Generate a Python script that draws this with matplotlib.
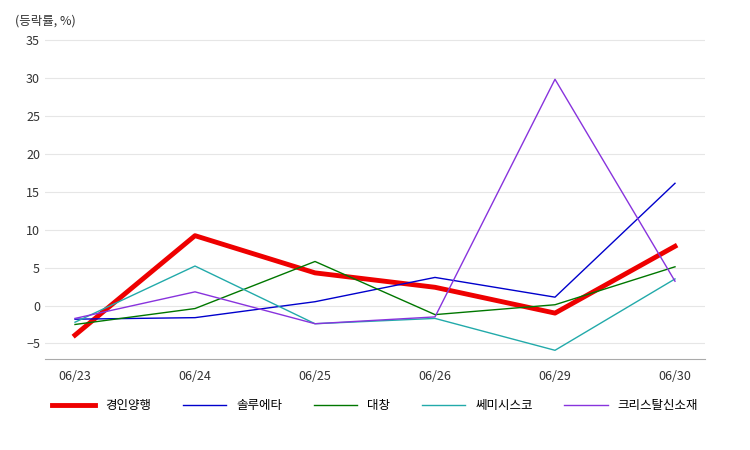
import matplotlib
matplotlib.use("Agg")
import matplotlib.pyplot as plt

plt.rcParams['font.family'] = ['Noto Sans CJK JP', 'Noto Sans CJK KR', 'Noto Sans CJK SC', 'DejaVu Sans']

dates = ["06/23", "06/24", "06/25", "06/26", "06/29", "06/30"]
s_names = ["경인양행", "솔루에타", "대창", "쎄미시스코", "크리스탈신소재"]
s1 = [-3.9, 9.2, 4.3, 2.4, -1.0, 7.8]
s2 = [-1.8, -1.6, 0.5, 3.7, 1.1, 16.1]
s3 = [-2.5, -0.4, 5.8, -1.2, 0.1, 5.1]
s4 = [-2.2, 5.2, -2.4, -1.7, -5.9, 3.5]
s5 = [-1.7, 1.8, -2.4, -1.5, 29.8, 3.2]
colors = ["#ee0000", "#0000cc", "#007700", "#22aaaa", "#8833dd"]
widths = [3.5, 1, 1, 1, 1]

fig = plt.figure(figsize=(7.5, 4.5), dpi=100)
ax = fig.add_axes([0.06, 0.203, 0.88, 0.717])
x = range(len(dates))
for name, vals, c, w in zip(s_names, [s1, s2, s3, s4, s5], colors, widths):
    ax.plot(x, vals, color=c, lw=w, label=name)
ax.set_xlim(-0.25, 5.25)
ax.set_ylim(-7, 35.5)
ax.set_yticks(range(-5, 36, 5))
ax.set_xticks(list(x))
ax.set_xticklabels(dates)
ax.grid(axis='y', color='#e6e6e6', lw=0.8)
ax.set_axisbelow(True)
for s in ['top', 'right', 'left']:
    ax.spines[s].set_visible(False)
ax.spines['bottom'].set_color('#aaaaaa')
ax.tick_params(length=0, labelsize=9, colors='#333333')
ax.tick_params(axis='x', pad=8)
fig.text(0.02, 0.945, "(등락률, %)", fontsize=9, color='#333333')
fig.legend(loc='center', bbox_to_anchor=(0.5, 0.098), ncol=5, frameon=False,
           fontsize=9, handlelength=3.5, columnspacing=2.5)
fig.savefig("out.png")
